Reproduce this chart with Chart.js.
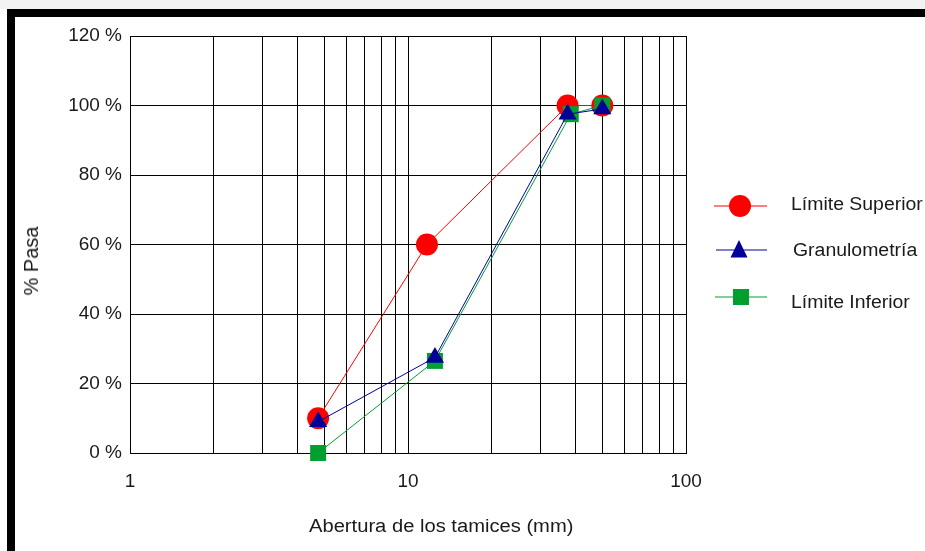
<!DOCTYPE html>
<html>
<head>
<meta charset="utf-8">
<script src="https://cdn.jsdelivr.net/npm/chart.js@4.4.1/dist/chart.umd.min.js"></script>
<style>
  body { margin: 0; background: #fff; font-family: "Liberation Sans", Arial, sans-serif; }
  #wrap { position: relative; width: 925px; height: 551px; overflow: hidden; background: #fff; }
  #chart { position: absolute; left: 0; top: 0; }
  #strip { position: absolute; left: 0; top: 0; width: 925px; height: 9px; background: #f3f3f3; }
  #frameTop { position: absolute; left: 7px; top: 9px; width: 918px; height: 8px; background: #000; }
  #frameLeft { position: absolute; left: 7px; top: 9px; width: 8px; height: 542px; background: #000; }
  .txt { position: absolute; color: #1a1a1a; white-space: nowrap; font-size: 18px; line-height: 20px;
         transform-origin: 0 0; transform: scaleX(1.12); }
  .leg { transform: scaleX(1.08); }
  #xTitle { left: 309px; top: 516px; }
  #yTitle { left: 31px; top: 261px; font-size: 20px; transform-origin: 50% 50%;
            transform: translate(-50%, -50%) rotate(-90deg); }
  .mark { position: absolute; left: 705px; width: 70px; height: 30px; }
</style>
</head>
<body>
<div id="wrap">
  <canvas id="chart" width="925" height="551"></canvas>
  <div id="strip"></div>
  <div id="frameTop"></div>
  <div id="frameLeft"></div>
  <div id="xTitle" class="txt">Abertura de los tamices (mm)</div>
  <div id="yTitle" class="txt">% Pasa</div>
  <svg class="mark" style="top:191px" viewBox="0 0 70 30">
    <line x1="9" y1="15" x2="62" y2="15" stroke="#ff0000" stroke-width="1"/>
    <circle cx="35" cy="15" r="11" fill="#ff0000"/>
  </svg>
  <svg class="mark" style="top:235px" viewBox="0 0 70 30">
    <line x1="11" y1="15" x2="62" y2="15" stroke="#000099" stroke-width="1"/>
    <polygon points="34,5 42.5,22.5 25.5,22.5" fill="#000099"/>
  </svg>
  <svg class="mark" style="top:282px" viewBox="0 0 70 30">
    <line x1="10" y1="15" x2="62" y2="15" stroke="#00a030" stroke-width="1"/>
    <rect x="28" y="7" width="16" height="16" fill="#00a030"/>
  </svg>
  <div id="leg0" class="txt leg" style="left:791px; top:194px"></div>
  <div id="leg1" class="txt leg" style="left:793px; top:240px"></div>
  <div id="leg2" class="txt leg" style="left:791px; top:292px"></div>
</div>
<script>
// Datos
const seriesNames = ['Límite Superior', 'Granulometría', 'Límite Inferior'];
const supX = [4.75, 11.7, 37.5, 50];
const supY = [10, 60, 100, 100];
const granX = [4.75, 12.5, 37.5, 50];
const granY = [9, 27.5, 97.5, 99];
const infX = [4.75, 12.5, 38.5, 50];
const infY = [0, 26.5, 97.5, 100];
const xGridValues = [1, 2, 3, 4, 5, 6, 7, 8, 9, 10, 20, 30, 40, 50, 60, 70, 80, 90, 100];
const xLabelValues = [1, 10, 100];
const yTickValues = [0, 20, 40, 60, 80, 100, 120];

seriesNames.forEach((name, i) => {
    document.getElementById('leg' + i).textContent = name;
});

function toPoints(xs, ys) {
    return xs.map((x, i) => ({ x: x, y: ys[i] }));
}

const tickFont = { family: '"Liberation Sans", Arial, sans-serif', size: 19 };

new Chart(document.getElementById('chart'), {
    type: 'scatter',
    data: {
        datasets: [
            {
                label: seriesNames[0],
                data: toPoints(supX, supY),
                showLine: true,
                borderColor: '#ff0000',
                borderWidth: 1,
                backgroundColor: '#ff0000',
                pointStyle: 'circle',
                pointRadius: 11,
                pointBorderWidth: 0,
                clip: false,
                order: 3
            },
            {
                label: seriesNames[1],
                data: toPoints(granX, granY),
                showLine: true,
                borderColor: '#000099',
                borderWidth: 1,
                backgroundColor: '#000099',
                pointStyle: 'triangle',
                pointRadius: 10.5,
                pointBorderWidth: 0,
                clip: false,
                order: 1
            },
            {
                label: seriesNames[2],
                data: toPoints(infX, infY),
                showLine: true,
                borderColor: '#00a030',
                borderWidth: 1,
                backgroundColor: '#00a030',
                pointStyle: 'rect',
                pointRadius: 11.3,
                pointBorderWidth: 0,
                clip: false,
                order: 2
            }
        ]
    },
    options: {
        responsive: false,
        animation: false,
        devicePixelRatio: 1,
        layout: { padding: { top: 36, right: 239, bottom: 0, left: 0 } },
        plugins: {
            legend: { display: false },
            tooltip: { enabled: false }
        },
        scales: {
            x: {
                type: 'logarithmic',
                min: 1,
                max: 100,
                afterBuildTicks: (scale) => {
                    scale.ticks = xGridValues.map(v => ({ value: v }));
                },
                afterFit: (scale) => { scale.height = 98; },
                ticks: {
                    autoSkip: false,
                    maxRotation: 0,
                    padding: 17,
                    color: '#1a1a1a',
                    font: tickFont,
                    callback: (v) => xLabelValues.includes(Math.round(v)) ? String(Math.round(v)) : ''
                },
                grid: { color: '#000', lineWidth: 1, drawTicks: false },
                border: { display: true, color: '#000', width: 1 }
            },
            y: {
                min: 0,
                max: 120,
                afterBuildTicks: (scale) => {
                    scale.ticks = yTickValues.map(v => ({ value: v }));
                },
                afterFit: (scale) => { scale.width = 130; },
                ticks: {
                    padding: 8,
                    color: '#1a1a1a',
                    font: tickFont,
                    callback: (v) => v + ' %'
                },
                grid: { color: '#000', lineWidth: 1, drawTicks: false },
                border: { display: true, color: '#000', width: 1 }
            }
        }
    }
});
</script>
</body>
</html>
